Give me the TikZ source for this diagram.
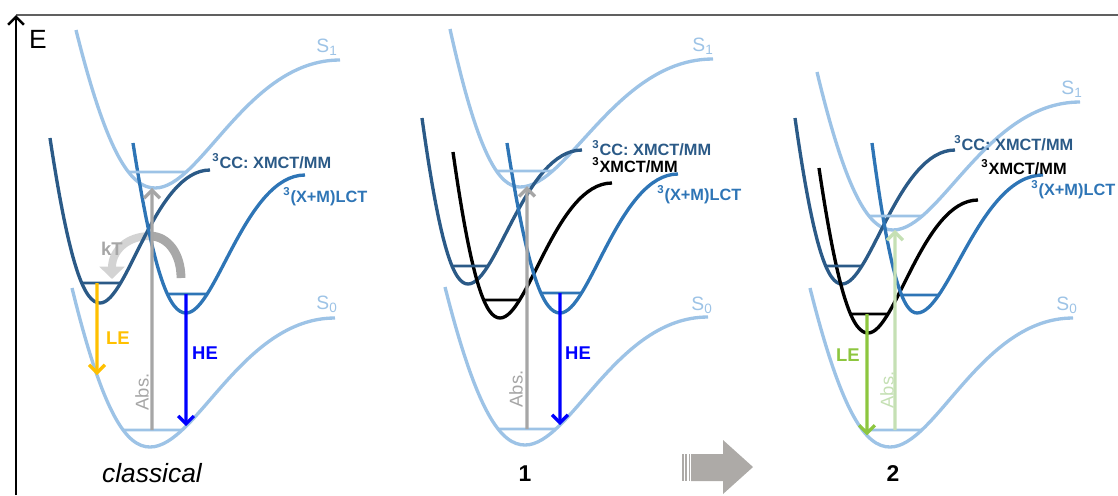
\documentclass[tikz,border=0pt]{standalone}
\usepackage{fontspec}
\setmainfont{Liberation Sans}
\usetikzlibrary{arrows.meta,intersections}
\definecolor{sblue}{HTML}{9DC3E6}
\definecolor{dblue}{HTML}{2B5A87}
\definecolor{mblue}{HTML}{2E75B6}
\definecolor{absgray}{HTML}{A6A6A6}
\definecolor{leorange}{HTML}{FFC000}
\definecolor{heblue}{HTML}{0000FF}
\definecolor{legreen}{HTML}{8DC63F}
\definecolor{absgreen}{HTML}{C5E0B4}
\definecolor{ktlight}{HTML}{D3D3D3}
\definecolor{ktdark}{HTML}{A8A8A8}
\definecolor{bigarrow}{HTML}{ADAAA7}
\definecolor{framegray}{HTML}{606060}
% potential curve: style, name, start x,y, min x,y, end x,y
\newcommand{\pes}[8]{%
  \draw[#1, name path=#2] (#3,#4)
    .. controls ({#3+0.4*(#5-#3)},{#4+0.8*(#6-#4)}) and ({#5-0.3*(#5-#3)},#6) .. (#5,#6)
    .. controls ({#5+0.25*(#7-#5)},#6) and ({#7-0.5*(#7-#5)},#8) .. (#7,#8);}
% vibrational level: style, curve name, y, coordinate prefix
\newcommand{\pesLevel}[4]{%
  \path[name path=#4h] (0,#3) -- (1118,#3);
  \draw[#1, name intersections={of=#2 and #4h, name=#4}] (#4-1) -- (#4-2);}
% point of a curve above/below x: x, curve name, coordinate name
\newcommand{\vhit}[3]{%
  \path[name path=#3v] (#1,0) -- (#1,495);
  \path[name intersections={of=#2 and #3v, by=#3}];}
\tikzset{
  pot/.style={line width=1.9pt},
  lvl/.style={line width=1.5pt},
  trans/.style={line width=1.9pt, -{Straight Barb[length=4.5pt,width=9pt]}},
  statelbl/.style={font=\bfseries\fontsize{9.3}{11}\selectfont, inner sep=0pt, anchor=west},
  slbl/.style={font=\fontsize{11}{13}\selectfont, text=sblue, inner sep=0pt},
  emlbl/.style={font=\bfseries\fontsize{10.5}{12}\selectfont, inner sep=0pt},
  abslbl/.style={font=\fontsize{10.5}{12}\selectfont, inner sep=0pt, rotate=90},
  cmpd/.style={font=\bfseries\fontsize{13}{15}\selectfont, inner sep=0pt},
}
\begin{document}
\begin{tikzpicture}[x=0.02cm, y=-0.02cm]
\useasboundingbox (0,0) rectangle (1118,495);
% frame
\coordinate (axb) at (16,495);
\coordinate (axt) at (16,15);
\coordinate (topr) at (1118,15);
\draw[line width=0.8pt, framegray] (axt) -- (topr);
\draw[line width=1.5pt, -{Straight Barb[length=4.5pt,width=9pt]}] (axb) -- (axt);
\node[font=\fontsize{15}{18}\selectfont, inner sep=0pt] (E) at (38,39) {E};

% ---------- panel 1 : classical ----------
\coordinate (kttop) at (150,236);
\coordinate (ktl) at (112,279);
\coordinate (ktr) at (181,278);
\draw[ktlight, line width=4.5pt, -{Triangle[length=7pt,width=14pt]}] (kttop) .. controls (128,236) and (112,250) .. (ktl);
\draw[ktdark, line width=5pt] (kttop) .. controls (168,236) and (181,254) .. (ktr);

\pes{pot, sblue}{s1a}{76}{30}{155}{188}{340}{60}
\pes{pot, dblue}{cca}{50}{138}{100}{303}{210}{170}
\pes{pot, mblue}{lcta}{133}{143}{186}{313}{305}{175}
\pes{pot, sblue}{s0a}{72}{288}{150}{447}{335}{318}
\pesLevel{lvl, sblue}{s1a}{172}{ls1a}
\pesLevel{lvl, dblue}{cca}{283}{lcca}
\pesLevel{lvl, mblue}{lcta}{294}{llcta}
\pesLevel{lvl, sblue}{s0a}{430}{ls0a}

\coordinate (abs1s) at (152,430);
\vhit{152}{s1a}{abs1e}
\draw[trans, absgray] (abs1s) -- (abs1e);
\coordinate (le1s) at (97,283);
\vhit{97}{s0a}{le1e}
\draw[trans, leorange] (le1s) -- (le1e);
\coordinate (he1s) at (186,294);
\vhit{186}{s0a}{he1e}
\draw[trans, heblue] (he1s) -- (he1e);

\node[emlbl, text=absgray] (kt) at (112,249) {kT};
\node[statelbl, text=dblue] (cclab1) at (212,161) {\textsuperscript{3}CC: XMCT/MM};
\node[statelbl, text=mblue] (lctlab1) at (283,197) {\textsuperscript{3}(X+M)LCT};
\node[slbl] (s1lab1) at (327,47) {S\textsubscript{1}};
\node[slbl] (s0lab1) at (327,304) {S\textsubscript{0}};
\node[emlbl, text=leorange] (lelab1) at (118,338) {LE};
\node[emlbl, text=heblue] (helab1) at (205,353) {HE};
\node[abslbl, text=absgray] (abslab1) at (142,392) {Abs.};
\node[font=\itshape\fontsize{15}{18}\selectfont, inner sep=0pt] (lab1) at (152,473) {classical};

% ---------- panel 2 : 1 ----------
\pes{pot, sblue}{s1b}{450}{29}{520}{187}{713}{59}
\pes{pot, dblue}{ccb}{422}{118}{468}{284}{582}{150}
\pes{pot, black}{xmb}{453}{152}{500}{318}{612}{183}
\pes{pot, mblue}{lctb}{507}{143}{560}{313}{678}{174}
\pes{pot, sblue}{s0b}{445}{287}{525}{445}{708}{317}
\pesLevel{lvl, sblue}{s1b}{171}{ls1b}
\pesLevel{lvl, dblue}{ccb}{266}{lccb}
\pesLevel{lvl, black}{xmb}{300}{lxmb}
\pesLevel{lvl, mblue}{lctb}{293}{llctb}
\pesLevel{lvl, sblue}{s0b}{429}{ls0b}

\coordinate (abs2s) at (527,429);
\vhit{527}{s1b}{abs2e}
\draw[trans, absgray] (abs2s) -- (abs2e);
\coordinate (he2s) at (560,293);
\vhit{560}{s0b}{he2e}
\draw[trans, heblue] (he2s) -- (he2e);

\node[statelbl, text=dblue] (cclab2) at (592,148) {\textsuperscript{3}CC: XMCT/MM};
\node[statelbl, text=black] (xmlab2) at (592,165) {\textsuperscript{3}XMCT/MM};
\node[statelbl, text=mblue] (lctlab2) at (657,195) {\textsuperscript{3}(X+M)LCT};
\node[slbl] (s1lab2) at (703,46) {S\textsubscript{1}};
\node[slbl] (s0lab2) at (702,305) {S\textsubscript{0}};
\node[emlbl, text=heblue] (helab2) at (578,353) {HE};
\node[abslbl, text=absgray] (abslab2) at (516,389) {Abs.};
\node[cmpd] (lab2) at (525,474) {1};

% ---------- big arrow ----------
\fill[bigarrow] (691,454) -- (723,454) -- (723,440) -- (753,467) -- (723,494) -- (723,481) -- (691,481) -- cycle;
\fill[bigarrow] (682,454) rectangle (683.6,481);
\fill[bigarrow] (685.4,454) rectangle (687,481);
\fill[bigarrow] (688.6,454) rectangle (690,481);

% ---------- panel 3 : 2 ----------
\pes{pot, sblue}{s1c}{817}{72}{893}{230}{1080}{102}
\pes{pot, dblue}{ccc}{795}{118}{842}{284}{955}{150}
\pes{pot, black}{xmc}{819}{168}{868}{333}{978}{200}
\pes{pot, mblue}{lctc}{872}{143}{917}{313}{1043}{175}
\pes{pot, sblue}{s0c}{810}{288}{890}{447}{1073}{318}
\pesLevel{lvl, sblue}{s1c}{216}{ls1c}
\pesLevel{lvl, dblue}{ccc}{266}{lccc}
\pesLevel{lvl, black}{xmc}{314}{lxmc}
\pesLevel{lvl, mblue}{lctc}{295}{llctc}
\pesLevel{lvl, sblue}{s0c}{430}{ls0c}

\coordinate (le3s) at (867,314);
\vhit{867}{s0c}{le3e}
\draw[trans, legreen] (le3s) -- (le3e);
\coordinate (abs3s) at (895,430);
\vhit{895}{s1c}{abs3e}
\draw[trans, absgreen] (abs3s) -- (abs3e);

\node[statelbl, text=dblue] (cclab3) at (954,143) {\textsuperscript{3}CC: XMCT/MM};
\node[statelbl, text=black] (xmlab3) at (981,167) {\textsuperscript{3}XMCT/MM};
\node[statelbl, text=mblue] (lctlab3) at (1031,190) {\textsuperscript{3}(X+M)LCT};
\node[slbl] (s1lab3) at (1072,89) {S\textsubscript{1}};
\node[slbl] (s0lab3) at (1067,305) {S\textsubscript{0}};
\node[emlbl, text=legreen] (lelab3) at (848,355) {LE};
\node[abslbl, text=absgreen] (abslab3) at (887,390) {Abs.};
\node[cmpd] (lab3) at (893,474) {2};
\end{tikzpicture}
\end{document}
